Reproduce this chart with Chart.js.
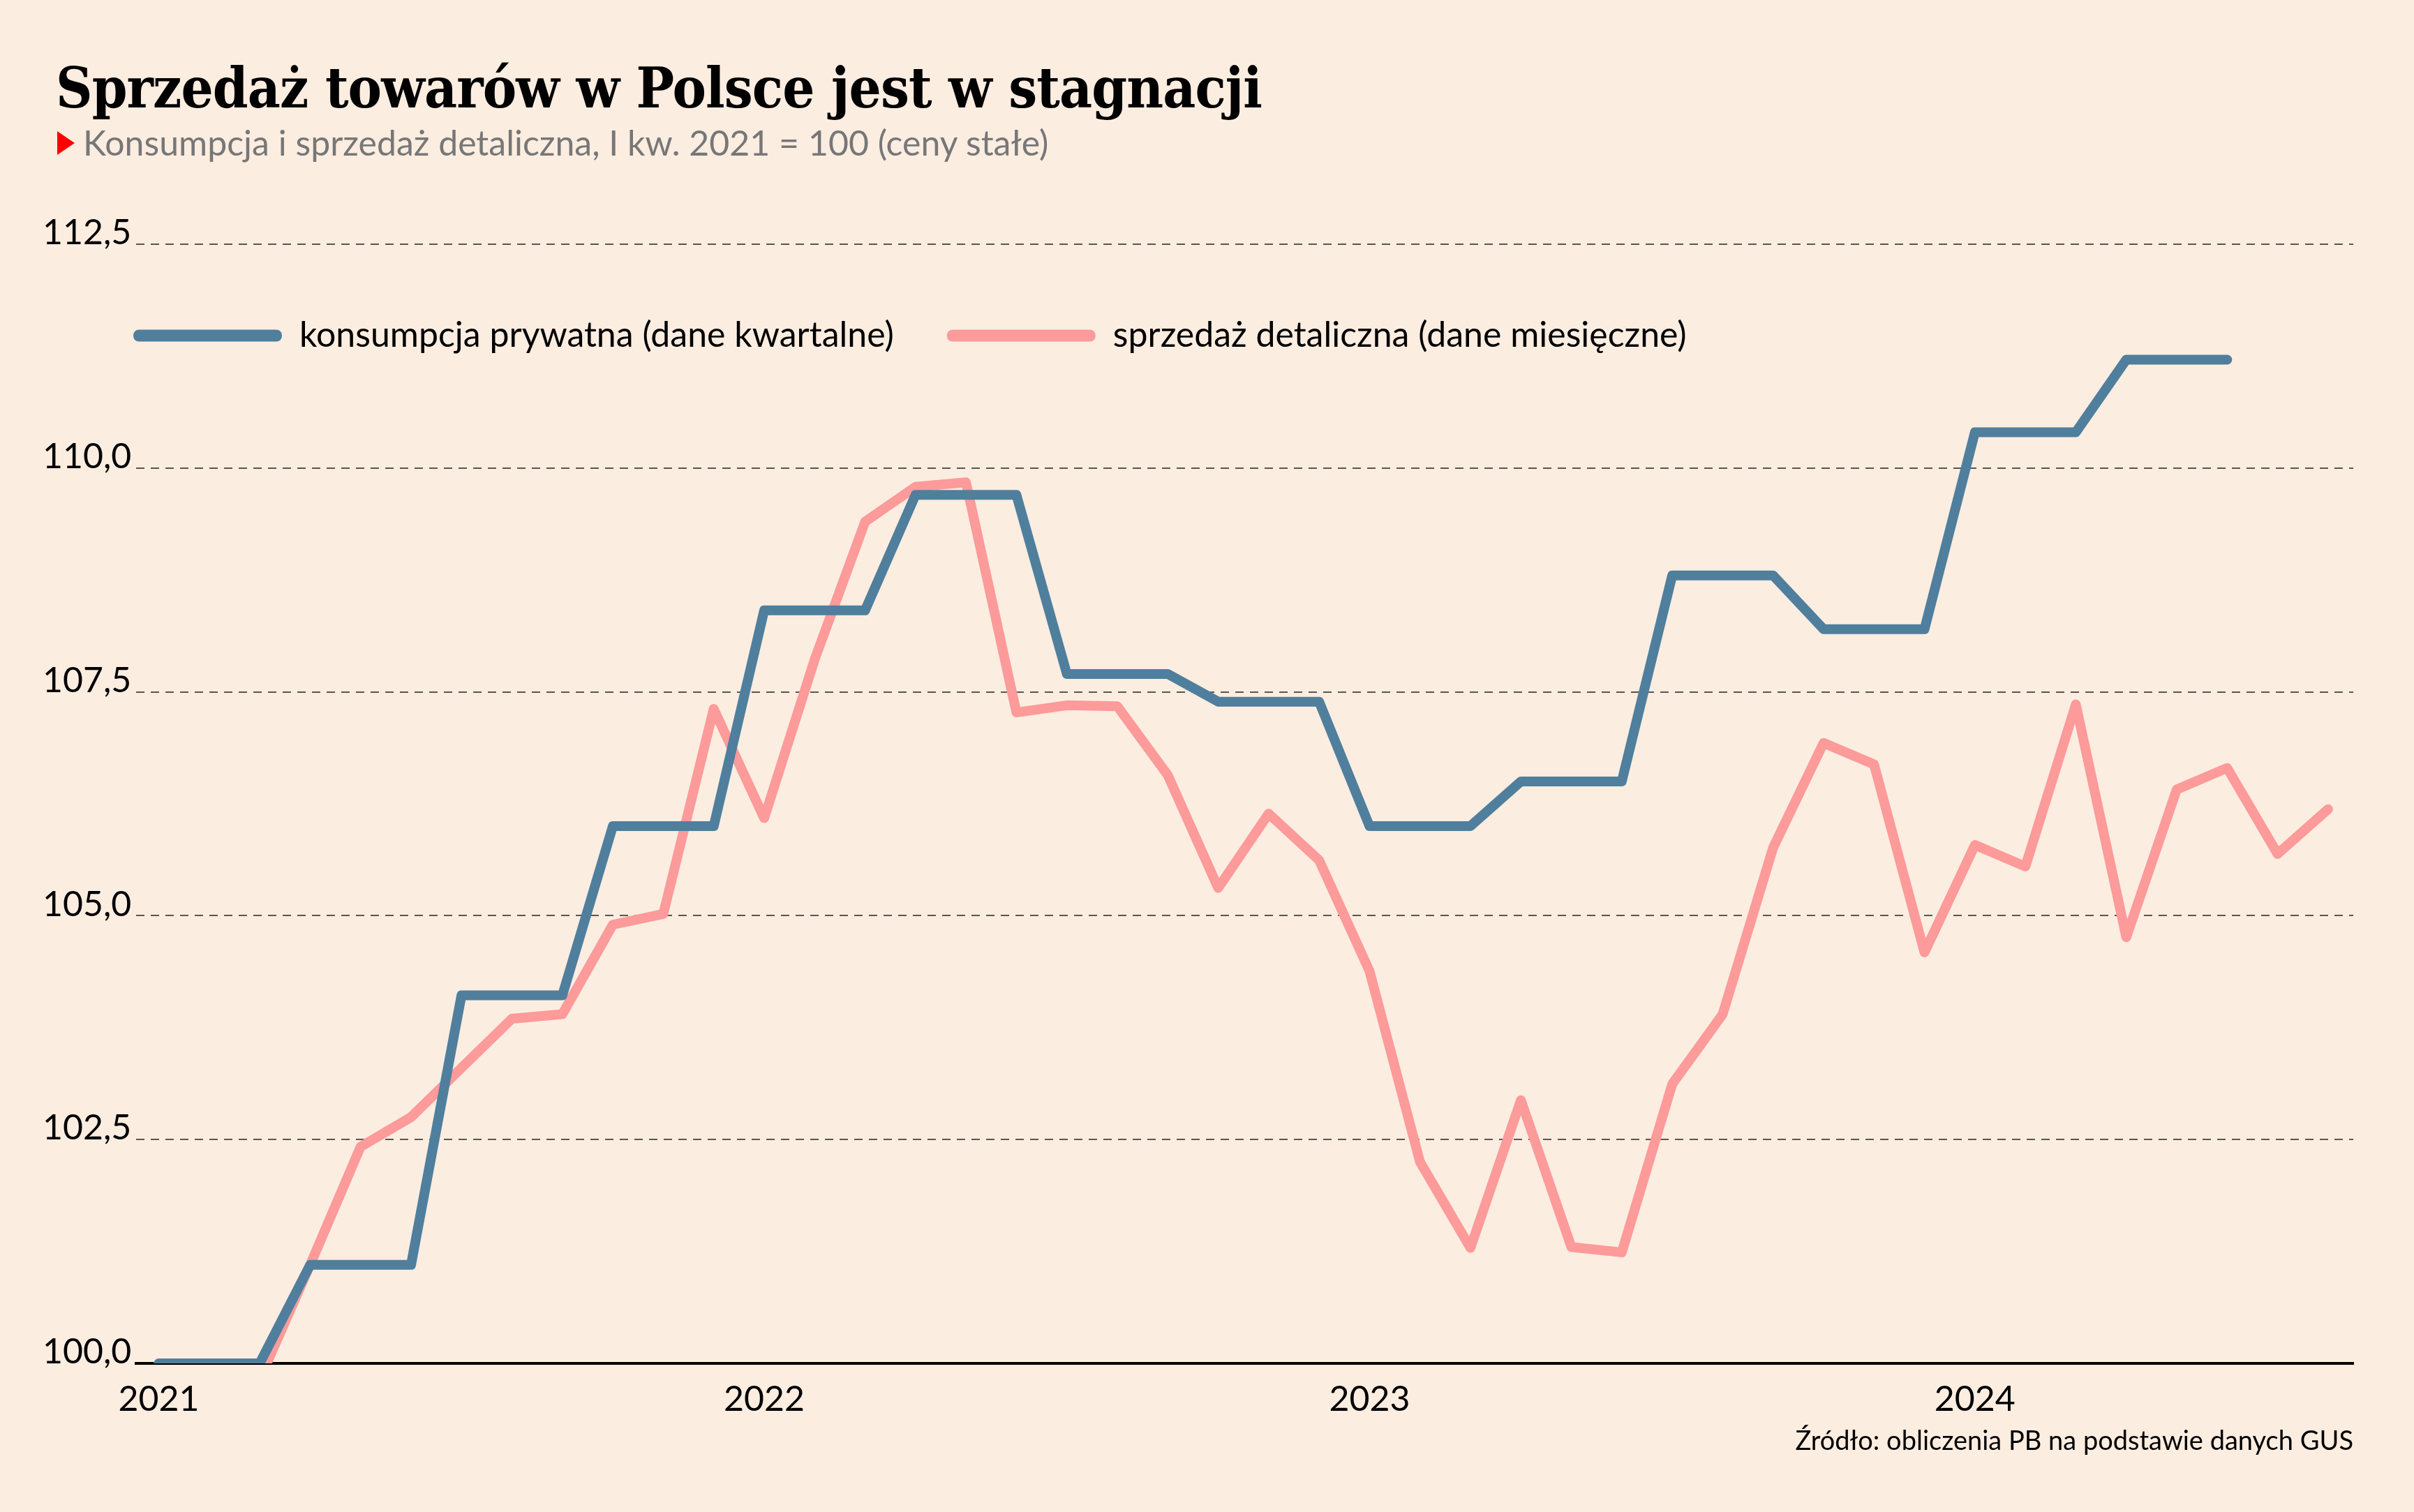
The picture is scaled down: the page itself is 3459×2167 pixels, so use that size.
<!DOCTYPE html>
<html lang="pl">
<head>
<meta charset="utf-8">
<title>Sprzedaż towarów w Polsce jest w stagnacji</title>
<script src="https://cdn.jsdelivr.net/npm/chart.js@4.4.1/dist/chart.umd.min.js"></script>
<style>
  html, body { margin: 0; padding: 0; background: #fcede1; }
  #wrap { position: relative; width: 3459px; height: 2167px; overflow: hidden; }
  #chart { position: absolute; left: 0; top: 0; }
  .title { position: absolute; left: 80px; top: 86px; font: bold 80px/1 "DejaVu Serif", serif; color: #000;
           white-space: nowrap; letter-spacing: -1px; transform-origin: 0 0; }
  .sub { position: absolute; left: 119px; top: 179px; font: 50px/1 Lato, sans-serif; color: #777; white-space: nowrap; }
  .tri { position: absolute; left: 82px; top: 188px; width: 0; height: 0;
         border-left: 25px solid #f00; border-top: 17px solid transparent; border-bottom: 17px solid transparent; }
  .src { position: absolute; right: 87px; top: 2044px; font: 38px/1 Lato, sans-serif; color: #000; white-space: nowrap; }
</style>
</head>
<body>
<div id="wrap">
  <canvas id="chart" width="3459" height="2167"></canvas>
  <div class="title" id="title">Sprzedaż towarów w Polsce jest w stagnacji</div>
  <div class="tri"></div>
  <div class="sub">Konsumpcja i sprzedaż detaliczna, I kw. 2021 = 100 (ceny stałe)</div>
  <div class="src">Źródło: obliczenia PB na podstawie danych GUS</div>
</div>
<script>
// months from I 2021 to VIII 2024
var months = [
  '2021-01','2021-02','2021-03','2021-04','2021-05','2021-06','2021-07','2021-08','2021-09','2021-10','2021-11','2021-12',
  '2022-01','2022-02','2022-03','2022-04','2022-05','2022-06','2022-07','2022-08','2022-09','2022-10','2022-11','2022-12',
  '2023-01','2023-02','2023-03','2023-04','2023-05','2023-06','2023-07','2023-08','2023-09','2023-10','2023-11','2023-12',
  '2024-01','2024-02','2024-03','2024-04','2024-05','2024-06','2024-07','2024-08'
];

// konsumpcja prywatna - quarterly value shown for each month of the quarter
var consumption = [
  100.0, 100.0, 100.0, 101.1, 101.1, 101.1, 104.11, 104.11, 104.11, 106.0, 106.0, 106.0,
  108.41, 108.41, 108.41, 109.7, 109.7, 109.7, 107.7, 107.7, 107.7, 107.39, 107.39, 107.39,
  106.0, 106.0, 106.0, 106.5, 106.5, 106.5, 108.8, 108.8, 108.8, 108.2, 108.2, 108.2,
  110.4, 110.4, 110.4, 111.21, 111.21, 111.21
];

// sprzedaż detaliczna - monthly
var retail = [
  100.0, 99.95, 99.82, 101.1, 102.42, 102.75, 103.3, 103.85, 103.9, 104.9, 105.02, 107.31,
  106.09, 107.86, 109.4, 109.79, 109.84, 107.27, 107.35, 107.34, 106.57, 105.31, 106.14, 105.62,
  104.38, 102.25, 101.29, 102.94, 101.3, 101.24, 103.12, 103.9, 105.76, 106.93, 106.69, 104.59,
  105.79, 105.55, 107.36, 104.76, 106.41, 106.65, 105.69, 106.19
];

var yearTicks = [0, 12, 24, 36];
var yearLabels = ['2021', '2022', '2023', '2024'];
var yTicks = [100, 102.5, 105, 107.5, 110, 112.5];
var yLabels = ['100,0', '102,5', '105,0', '107,5', '110,0', '112,5'];

function toPoints(values) {
  return values.map(function(v, i) { return { x: i, y: v }; });
}

// squeeze the headline to the width of the original
var t = document.getElementById('title');
t.style.transform = 'scaleX(' + (1728 / t.getBoundingClientRect().width) + ')';

var blue = '#4f7f9d';
var pink = '#fd9a9a';
var PLOT_TOP = 350;
var LEG_PAD = 76;

// legend sits inside the plot, slightly left of it
var legendPlace = {
  id: 'legendPlace',
  afterLayout: function(chart) {
    var lg = chart.legend;
    var w = lg.right - lg.left, h = lg.bottom - lg.top;
    lg.left = 191 - LEG_PAD;
    lg.top = 481 - LEG_PAD - 25;
    lg.right = lg.left + w;
    lg.bottom = lg.top + h;
  }
};

Chart.defaults.font.family = 'Lato';

var chart = new Chart(document.getElementById('chart'), {
  type: 'line',
  data: {
    datasets: [
      {
        label: 'konsumpcja prywatna (dane kwartalne)',
        data: toPoints(consumption),
        borderColor: blue,
        backgroundColor: blue,
        borderWidth: 14,
        borderCapStyle: 'round',
        borderJoinStyle: 'round',
        pointRadius: 0,
        tension: 0,
        fill: false
      }, {
        label: 'sprzedaż detaliczna (dane miesięczne)',
        data: toPoints(retail),
        borderColor: pink,
        backgroundColor: pink,
        borderWidth: 14,
        borderCapStyle: 'round',
        borderJoinStyle: 'round',
        pointRadius: 0,
        tension: 0,
        fill: false
      }
    ]
  },
  options: {
    responsive: false,
    animation: false,
    devicePixelRatio: 1,
    layout: {
      padding: { left: 61, top: 200, right: 87, bottom: 0 }
    },
    plugins: {
      title: { display: false },
      tooltip: { enabled: false },
      legend: {
        display: true,
        position: 'top',
        align: 'start',
        labels: {
          font: { family: 'Lato', size: 50 },
          color: '#000',
          boxWidth: 213,
          boxHeight: 17,
          padding: LEG_PAD,
          useBorderRadius: true,
          borderRadius: 8,
          generateLabels: function(c) {
            var items = Chart.defaults.plugins.legend.labels.generateLabels(c);
            items.forEach(function(it) { it.lineWidth = 0; it.borderRadius = 8; });
            return items;
          }
        }
      }
    },
    scales: {
      x: {
        type: 'linear',
        min: -0.45,
        max: 43.5,
        afterBuildTicks: function(s) {
          s.ticks = yearTicks.map(function(v) { return { value: v }; });
        },
        afterFit: function(s) { s.height = 213; },
        grid: { display: false, drawTicks: false },
        border: { display: true, color: '#000', width: 4 },
        ticks: {
          font: { family: 'Lato', size: 50 },
          color: '#000',
          padding: 22,
          maxRotation: 0,
          autoSkip: false,
          callback: function(v) {
            var i = yearTicks.indexOf(v);
            return i >= 0 ? yearLabels[i] : '';
          }
        }
      },
      y: {
        min: 100,
        max: 112.5,
        afterBuildTicks: function(s) {
          s.ticks = yTicks.map(function(v) { return { value: v }; });
        },
        afterFit: function(s) { s.width = 134; },
        grid: {
          drawTicks: false,
          lineWidth: 2,
          color: function(ctx) {
            return ctx.tick && ctx.tick.value === 100 ? 'rgba(0,0,0,0)' : '#5a5550';
          }
        },
        border: { display: false, dash: [12, 9] },
        ticks: {
          font: { family: 'Lato', size: 50 },
          color: '#000',
          crossAlign: 'far',
          padding: 0,
          labelOffset: -16,
          callback: function(v) {
            var i = yTicks.indexOf(v);
            return i >= 0 ? yLabels[i] : '';
          }
        }
      }
    }
  },
  plugins: [legendPlace]
});

// the legend takes room above the plot; pull the plot top back to its place
chart.options.layout.padding.top += PLOT_TOP - chart.chartArea.top;
chart.update();
</script>
</body>
</html>
